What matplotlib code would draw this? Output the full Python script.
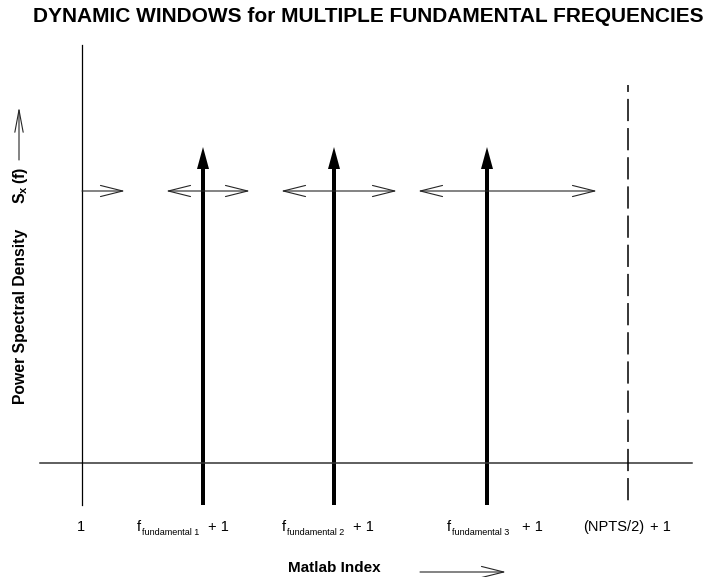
import matplotlib
matplotlib.use('Agg')
import matplotlib.pyplot as plt

plt.rcParams['font.family'] = ['Liberation Sans', 'DejaVu Sans']
plt.rcParams['mathtext.fontset'] = 'custom'
plt.rcParams['mathtext.rm'] = 'Liberation Sans'
plt.rcParams['mathtext.bf'] = 'Liberation Sans:bold'
plt.rcParams['lines.scale_dashes'] = False

# schematic: positions along the index axis (in figure pixels)
start_idx = 82
fund_idx = [203, 334, 487]
nyq_idx = 628
fund_names = ['fundamental 1', 'fundamental 2', 'fundamental 3']

# dynamic window edges around each fundamental
win_left = [82, 166, 281, 418]
win_right = [125, 250, 397, 597]

# levels (pixels from top)
psd_level = 191
peak_top = 147
baseline = 463
axis_bottom = 505
axis_top = 45
nyq_top = 85

title = 'DYNAMIC WINDOWS for MULTIPLE FUNDAMENTAL FREQUENCIES'

fig = plt.figure(figsize=(7.1, 5.77), dpi=100)
ax = fig.add_axes([0, 0, 1, 1])
ax.set_xlim(0, 710)
ax.set_ylim(577, 0)
ax.axis('off')

# axes lines
ax.plot([40, 692], [baseline, baseline], color='0.2', lw=1.1)
ax.plot([start_idx, start_idx], [axis_top, axis_bottom], color='black', lw=0.9)
ax.plot([nyq_idx, nyq_idx], [nyq_top, axis_bottom], color='black', lw=1.1,
        linestyle=(11, (16, 5)))

# fundamentals
for x in fund_idx:
    ax.arrow(x, axis_bottom, 0, peak_top - axis_bottom, width=4, head_width=12,
             head_length=22, length_includes_head=True, color='black', lw=0)

# windows
for i in range(len(win_left)):
    style = '->' if i == 0 else '<->'
    ax.annotate('', xy=(win_right[i], psd_level), xytext=(win_left[i], psd_level),
                arrowprops=dict(arrowstyle=style + ',head_length=1.6,head_width=0.4',
                                lw=0.8, color='0.15', mutation_scale=10,
                                shrinkA=0, shrinkB=0))

ax.text(368, 17, title, ha='center', va='center', fontsize=15, fontweight='bold')

# tick labels
ax.text(81, 531, '1', ha='center', va='baseline', fontsize=10.5)
f_x = [137, 282, 447]
plus_x = [208, 353, 522]
for i in range(3):
    ax.text(f_x[i], 531, 'f', ha='left', va='baseline', fontsize=10.5)
    ax.text(f_x[i] + 5, 535, fund_names[i], ha='left', va='baseline', fontsize=6.5)
    ax.text(plus_x[i], 531, '+ 1', ha='left', va='baseline', fontsize=10.5)
ax.text(583, 531, '(NPTS/2)', ha='left', va='baseline', fontsize=10.5)
ax.text(650, 531, '+ 1', ha='left', va='baseline', fontsize=10.5)

# axis titles
ax.text(334, 568, 'Matlab Index', ha='center', va='center', fontsize=11,
        fontweight='bold')
ax.annotate('', xy=(506, 572), xytext=(420, 572),
            arrowprops=dict(arrowstyle='->,head_length=1.6,head_width=0.4',
                            lw=0.8, color='0.15', mutation_scale=10,
                            shrinkA=0, shrinkB=0))

ax.text(21, 316, 'Power Spectral Density', rotation=90, ha='center', va='center',
        fontsize=11.3, fontweight='bold')
ax.text(21, 185, r'$\mathbf{S_x\,(f)}$', rotation=90, ha='center', va='center',
        fontsize=11.5)
ax.annotate('', xy=(19, 107), xytext=(19, 160),
            arrowprops=dict(arrowstyle='->,head_length=1.6,head_width=0.3',
                            lw=0.8, color='0.15', mutation_scale=10,
                            shrinkA=0, shrinkB=0))

fig.savefig('out.png', dpi=100)
